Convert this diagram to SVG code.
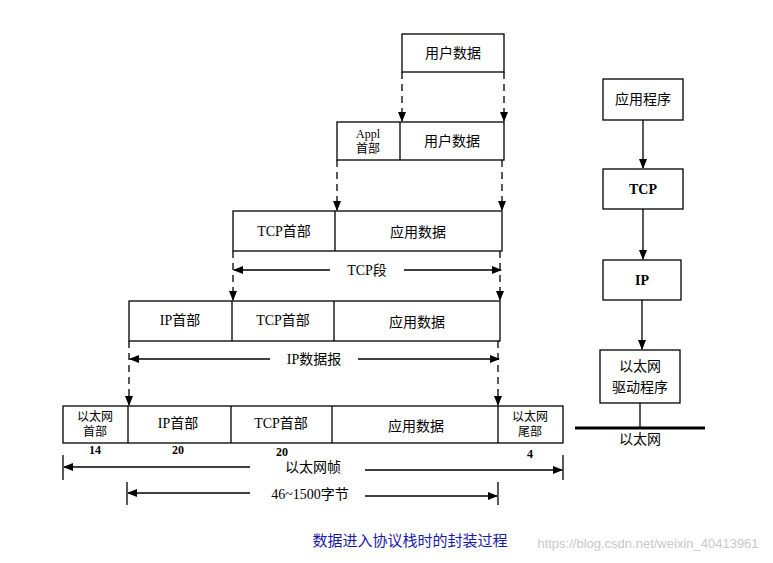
<svg xmlns="http://www.w3.org/2000/svg" width="773" height="563" viewBox="0 0 773 563">
<defs>
<marker id="a" markerWidth="10" markerHeight="10" refX="9" refY="5" orient="auto" markerUnits="userSpaceOnUse"><path d="M0,1 L10,5 L0,9 Z" fill="#000"/></marker>
<style>
rect{fill:#fff;stroke:#000;stroke-width:1.3}
.d{stroke:#000;stroke-width:1.3;fill:none}
.ds{stroke:#000;stroke-width:1.3;stroke-dasharray:7,5;fill:none}
text{font-family:"Liberation Serif","Noto Sans CJK SC",serif;font-size:14px;text-anchor:middle;fill:#000}
.s{font-size:12px}
.b{font-weight:bold}
</style>
</defs>
<rect width="773" height="563" style="fill:#fff;stroke:none"/>
<g id="r1"><rect x="402" y="34" width="102" height="38"/><text x="453" y="58">用户数据</text></g>
<g id="r2"><rect x="337" y="122" width="167" height="38"/><line class="d" x1="400" y1="122" x2="400" y2="160"/><text class="s" x="368" y="138">Appl</text><text class="s" x="368" y="153">首部</text><text x="452" y="146">用户数据</text></g>
<g id="r3"><rect x="233" y="211" width="269" height="40"/><line class="d" x1="335" y1="211" x2="335" y2="251"/><text x="284" y="236">TCP首部</text><text x="418" y="237">应用数据</text></g>
<g id="r4"><rect x="129" y="301" width="371" height="40"/><line class="d" x1="232" y1="301" x2="232" y2="341"/><line class="d" x1="334" y1="301" x2="334" y2="341"/><text x="180" y="325">IP首部</text><text x="283" y="325">TCP首部</text><text x="417" y="327">应用数据</text></g>
<g id="r5"><rect x="63" y="406" width="500" height="37"/><line class="d" x1="128" y1="406" x2="128" y2="443"/><line class="d" x1="231" y1="406" x2="231" y2="443"/><line class="d" x1="332" y1="406" x2="332" y2="443"/><line class="d" x1="498" y1="406" x2="498" y2="443"/>
<text class="s" x="95" y="421">以太网</text><text class="s" x="95" y="436">首部</text><text x="178" y="428">IP首部</text><text x="281" y="428">TCP首部</text><text x="416" y="431">应用数据</text><text class="s" x="530" y="421">以太网</text><text class="s" x="530" y="436">尾部</text>
<text class="b s" x="95" y="454">14</text><text class="b s" x="178" y="454">20</text><text class="b s" x="282" y="456">20</text><text class="b s" x="530" y="458">4</text></g>
<g id="right">
<g id="app"><rect x="603" y="79" width="80" height="41"/><text x="643" y="104">应用程序</text></g>
<g id="tcp"><rect x="603" y="169" width="80" height="40"/><text class="b" x="643" y="194">TCP</text></g>
<g id="ip"><rect x="603" y="260" width="78" height="40"/><text class="b" x="642" y="285">IP</text></g>
<g id="drv"><rect x="600" y="350" width="80" height="53"/><text x="640" y="371">以太网</text><text x="640" y="392">驱动程序</text></g>
<line x1="575" y1="428" x2="705" y2="428" stroke="#000" stroke-width="3"/><text x="640" y="444">以太网</text>
</g>
<g id="connectors">
<line class="ds" x1="402" y1="72" x2="402" y2="121" marker-end="url(#a)"/>
<line class="ds" x1="504" y1="72" x2="504" y2="121" marker-end="url(#a)"/>
<line class="ds" x1="337" y1="160" x2="337" y2="210" marker-end="url(#a)"/>
<line class="ds" x1="502" y1="160" x2="502" y2="210" marker-end="url(#a)"/>
<line class="ds" x1="233" y1="251" x2="233" y2="300" marker-end="url(#a)"/>
<line class="ds" x1="500" y1="251" x2="500" y2="300" marker-end="url(#a)"/>
<line class="ds" x1="129" y1="341" x2="129" y2="405" marker-end="url(#a)"/>
<line class="ds" x1="498" y1="341" x2="498" y2="405" marker-end="url(#a)"/>
<line class="d" x1="330" y1="270" x2="234" y2="270" marker-end="url(#a)"/><line class="d" x1="404" y1="270" x2="501" y2="270" marker-end="url(#a)"/><text x="367" y="275">TCP段</text>
<line class="d" x1="270" y1="359" x2="130" y2="359" marker-end="url(#a)"/><line class="d" x1="358" y1="359" x2="499" y2="359" marker-end="url(#a)"/><text x="314" y="364">IP数据报</text>
<line class="d" x1="63" y1="455" x2="63" y2="480"/><line class="d" x1="563" y1="455" x2="563" y2="480"/>
<line class="d" x1="250" y1="467" x2="64" y2="467" marker-end="url(#a)"/><line class="d" x1="365" y1="470" x2="562" y2="470" marker-end="url(#a)"/><text x="313" y="472">以太网帧</text>
<line class="d" x1="127" y1="482" x2="127" y2="505"/><line class="d" x1="498" y1="482" x2="498" y2="505"/>
<line class="d" x1="250" y1="493" x2="128" y2="493" marker-end="url(#a)"/><line class="d" x1="365" y1="496" x2="497" y2="496" marker-end="url(#a)"/><text x="310" y="499">46~1500字节</text>
<line class="d" x1="643" y1="120" x2="643" y2="168" marker-end="url(#a)"/>
<line class="d" x1="643" y1="209" x2="643" y2="259" marker-end="url(#a)"/>
<line class="d" x1="642" y1="300" x2="642" y2="349" marker-end="url(#a)"/>
<line class="d" x1="640" y1="403" x2="640" y2="428"/>
</g>
<text x="410" y="546" style="fill:#1a1aa8;font-size:15px">数据进入协议栈时的封装过程</text>
<text x="648" y="548" style="fill:#c8c8c8;font-size:13px;font-family:'Liberation Sans',sans-serif">https://blog.csdn.net/weixin_40413961</text>
</svg>
